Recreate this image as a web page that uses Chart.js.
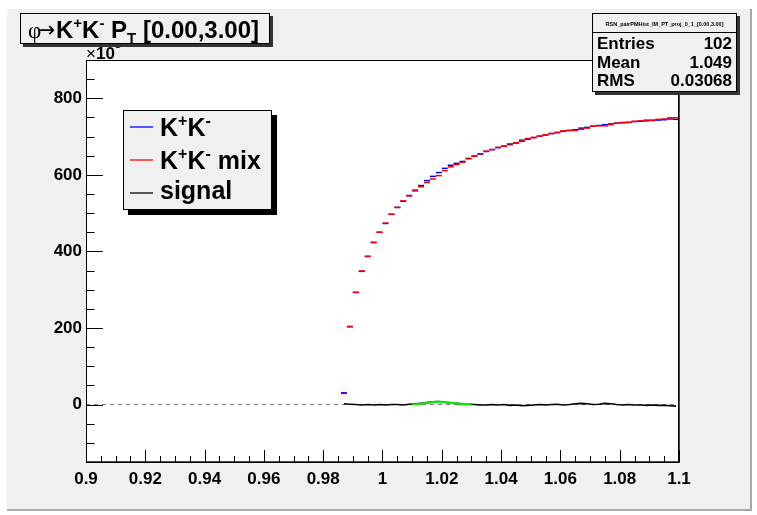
<!DOCTYPE html>
<html>
<head>
<meta charset="utf-8">
<script src="https://cdn.jsdelivr.net/npm/chart.js@4.4.1/dist/chart.umd.min.js"></script>
<style>
  html, body { margin: 0; padding: 0; background: #fff; }
</style>
</head>
<body>
<canvas id="chart" width="757" height="515"></canvas>
<script>
// Bin centres (bin width 0.002 GeV/c^2)
const binCenters = [
  0.987, 0.989, 0.991, 0.993, 0.995, 0.997, 0.999, 1.001, 1.003, 1.005,
  1.007, 1.009, 1.011, 1.013, 1.015, 1.017, 1.019, 1.021, 1.023, 1.025,
  1.027, 1.029, 1.031, 1.033, 1.035, 1.037, 1.039, 1.041, 1.043, 1.045,
  1.047, 1.049, 1.051, 1.053, 1.055, 1.057, 1.059, 1.061, 1.063, 1.065,
  1.067, 1.069, 1.071, 1.073, 1.075, 1.077, 1.079, 1.081, 1.083, 1.085,
  1.087, 1.089, 1.091, 1.093, 1.095, 1.097, 1.099
];

// Counts in units of 10^3
const kkCounts = [
  31, 204, 293, 348, 387, 423, 450, 473, 497, 515,
  531, 546, 560, 572, 585, 596, 606, 617, 625, 630,
  635, 643, 649, 654, 661, 666, 671, 675, 679, 683,
  688, 693, 697, 701, 704, 708, 711, 714, 716, 718,
  722, 724, 727, 729, 731, 733, 735, 736, 737, 739,
  740, 741, 742, 743, 744, 746, 745
];

const kkMixCounts = [
  29, 203, 293, 349, 387, 424, 450, 474, 497, 515,
  532, 545, 558, 569, 580, 589, 598, 611, 621, 627,
  633, 642, 649, 655, 662, 666, 672, 675, 681, 684,
  691, 695, 698, 701, 705, 708, 710, 715, 716, 716,
  719, 722, 727, 728, 728, 731, 735, 737, 737, 740,
  741, 743, 743, 745, 746, 749, 749
];

const signalCounts = [
  2, 1, 0, -1, 0, -1, 0, -1, 0, 0,
  -1, 1, 2, 3, 5, 7, 8, 6, 4, 3,
  2, 1, 0, -1, -1, 0, -1, 0, -2, -1,
  -3, -2, -1, 0, -1, 0, 1, -1, 0, 2,
  3, 2, 0, 1, 3, 2, 0, -1, 0, -1,
  -1, -2, -1, -2, -2, -3, -4
];

// Fit curve around the phi peak
const fitX = [1.010, 1.012, 1.014, 1.016, 1.018, 1.020, 1.022, 1.024, 1.026, 1.028, 1.030];
const fitY = [0.5, 1.5, 3.5, 5.5, 7, 7, 5.5, 3.5, 2, 1, 0.5];

// Axes
const xRange = [0.9, 1.1];
const yRange = [-150, 900];
const xTicks = [0.9, 0.92, 0.94, 0.96, 0.98, 1.0, 1.02, 1.04, 1.06, 1.08, 1.1];
const yTicks = [0, 200, 400, 600, 800];

// Stats box
const statsTitle = "RSN_pairPMHist_IM_PT_proj_0_1_[0.00,3.00]";
const statsNames = ["Entries", "Mean", "RMS"];
const statsValues = ["102", "1.049", "0.03068"];

const FAM = '"Liberation Sans", Arial, sans-serif';
const font = (size, weight = "bold") => `${weight} ${size}px ${FAM}`;

const toPoints = (xs, ys) => xs.map((x, i) => ({ x: x, y: ys[i] }));

// draw a run of text pieces (used for super/subscripts)
function drawParts(ctx, x, y, parts) {
  for (const p of parts) {
    ctx.font = p.font;
    ctx.fillText(p.t, x, y + (p.dy || 0));
    x += ctx.measureText(p.t).width + (p.gap || 0);
  }
  return x;
}

const kkLabel = (size) => [
  { t: "K", font: font(size) },
  { t: "+", font: font(Math.round(size * 0.62)), dy: -size * 0.42 },
  { t: "K", font: font(size) },
  { t: "-", font: font(Math.round(size * 0.62)), dy: -size * 0.42 }
];

const rootStyle = {
  id: "rootStyle",
  beforeDraw(chart) {
    const { ctx, chartArea: a } = chart;
    ctx.save();
    ctx.fillStyle = "#fff";
    ctx.fillRect(0, 0, chart.width, chart.height);
    ctx.fillStyle = "#f0f0f0";
    ctx.fillRect(7, 9, 745, 502);
    ctx.fillStyle = "#a8a8a8";
    ctx.fillRect(750, 9, 2, 502);
    ctx.fillRect(7, 509, 745, 2);

    // axis exponent (top is hidden behind the title box)
    ctx.fillStyle = "#000";
    ctx.textAlign = "left";
    ctx.textBaseline = "alphabetic";
    drawParts(ctx, 86, 59, [
      { t: "\u00d7", font: font(17, "normal") },
      { t: "10", font: font(17) },
      { t: "3", font: font(12), dy: -11 }
    ]);

    ctx.fillStyle = "#fff";
    ctx.fillRect(a.left, a.top, a.right - a.left, a.bottom - a.top);
    ctx.restore();
  },
  afterDraw(chart) {
    const { ctx, chartArea: a, scales } = chart;
    const sx = scales.x, sy = scales.y;
    ctx.save();

    // frame
    ctx.strokeStyle = "#000";
    ctx.lineWidth = 1;
    ctx.strokeRect(a.left + 0.5, a.top + 0.5, a.right - a.left - 1, a.bottom - a.top);

    // ticks inside the frame
    ctx.beginPath();
    for (let v = 0.9; v <= 1.1001; v += 0.005) {
      const px = Math.round(sx.getPixelForValue(v)) + 0.5;
      const major = Math.abs(v * 50 - Math.round(v * 50)) < 1e-6;
      ctx.moveTo(px, a.bottom);
      ctx.lineTo(px, a.bottom - (major ? 12 : 6));
    }
    for (let v = -100; v <= 850; v += 50) {
      const py = Math.round(sy.getPixelForValue(v)) + 0.5;
      const major = v % 200 === 0;
      ctx.moveTo(a.left, py);
      ctx.lineTo(a.left + (major ? 17 : 8.5), py);
    }
    ctx.stroke();

    // title box
    ctx.fillStyle = "#333";
    ctx.fillRect(23, 16, 250, 31);
    ctx.fillStyle = "#f0f0f0";
    ctx.fillRect(20, 13, 250, 31);
    ctx.strokeRect(20.5, 13.5, 249, 30);
    ctx.fillStyle = "#000";
    ctx.textAlign = "left";
    ctx.textBaseline = "alphabetic";
    drawParts(ctx, 28, 38, [{ t: "\u03c6", font: `normal 23px "Liberation Serif", serif` }]);
    drawParts(ctx, 37, 37, [{ t: "\u2192", font: `normal 22px "DejaVu Sans", sans-serif` }]);
    const x = drawParts(ctx, 56, 38, kkLabel(24));
    drawParts(ctx, x, 38, [
      { t: " P", font: font(24) },
      { t: "T", font: font(15), dy: 5 },
      { t: " [0.00,3.00]", font: font(24) }
    ]);

    // stats box
    ctx.fillStyle = "#333";
    ctx.fillRect(595, 16, 145, 79);
    ctx.fillStyle = "#f0f0f0";
    ctx.fillRect(592, 13, 145, 79);
    ctx.strokeRect(592.5, 13.5, 144, 78);
    ctx.beginPath();
    ctx.moveTo(592, 32.5);
    ctx.lineTo(737, 32.5);
    ctx.stroke();
    ctx.fillStyle = "#000";
    ctx.font = font(5.5);
    ctx.textAlign = "center";
    ctx.fillText(statsTitle, 664.5, 26);
    statsNames.forEach((name, i) => {
      const by = 49 + i * 18.5;
      ctx.font = font(17);
      ctx.textAlign = "left";
      ctx.fillText(name, 597, by);
      ctx.textAlign = "right";
      ctx.fillText(statsValues[i], 732, by);
    });

    // legend box
    ctx.fillStyle = "#000";
    ctx.fillRect(128, 115, 149, 100);
    ctx.fillStyle = "#f0f0f0";
    ctx.fillRect(123, 110, 149, 100);
    ctx.strokeStyle = "#000";
    ctx.strokeRect(123.5, 110.5, 148, 99);
    const rows = [
      { parts: kkLabel(25), color: "#0000ff", ly: 127, ty: 136 },
      { parts: kkLabel(25).concat([{ t: " mix", font: font(25) }]), color: "#ff0000", ly: 160, ty: 169 },
      { parts: [{ t: "signal", font: font(25) }], color: "#000000", ly: 193, ty: 199 }
    ];
    ctx.textAlign = "left";
    rows.forEach((r) => {
      ctx.strokeStyle = r.color;
      ctx.lineWidth = 1.3;
      ctx.beginPath();
      ctx.moveTo(130, r.ly);
      ctx.lineTo(153, r.ly);
      ctx.stroke();
      ctx.fillStyle = "#000";
      drawParts(ctx, 160, r.ty, r.parts);
    });

    ctx.restore();
  }
};

const histMarker = (color) => ({
  showLine: false,
  pointStyle: "line",
  pointRadius: 3,
  pointBorderWidth: 1.5,
  pointBorderColor: color,
  pointBackgroundColor: color,
  borderColor: color
});

new Chart(document.getElementById("chart"), {
  type: "scatter",
  data: {
    datasets: [
      {
        label: "frame line",
        data: [
          { x: xRange[0], y: yRange[0] },
          { x: xRange[1], y: yRange[0] },
          { x: xRange[1], y: yRange[1] }
        ],
        showLine: true,
        borderColor: "#ff0000",
        borderWidth: 2,
        pointRadius: 0,
        clip: false,
        order: 0
      },
      {
        label: "fit",
        data: toPoints(fitX, fitY),
        showLine: true,
        borderColor: "#00ee00",
        borderWidth: 2.2,
        pointRadius: 0,
        tension: 0.3,
        order: 1
      },
      {
        label: "signal",
        data: toPoints(binCenters, signalCounts),
        showLine: true,
        borderColor: "#000",
        borderWidth: 1.6,
        pointRadius: 0,
        order: 2
      },
      Object.assign({ label: "K+K- mix", data: toPoints(binCenters, kkMixCounts), order: 3 }, histMarker("#ff0000")),
      Object.assign({ label: "K+K-", data: toPoints(binCenters, kkCounts), order: 4 }, histMarker("#0000ff")),
      {
        label: "zero",
        data: [{ x: xRange[0], y: 0 }, { x: xRange[1], y: 0 }],
        showLine: true,
        borderColor: "#777",
        borderWidth: 1,
        borderDash: [4, 4],
        pointRadius: 0,
        order: 5
      }
    ]
  },
  options: {
    responsive: false,
    animation: false,
    layout: { padding: { left: 0, top: 60, right: 78, bottom: 0 } },
    plugins: {
      legend: { display: false },
      tooltip: { enabled: false }
    },
    scales: {
      x: {
        type: "linear",
        min: xRange[0],
        max: xRange[1],
        grid: { display: false, drawTicks: false },
        border: { display: false },
        afterBuildTicks: (s) => { s.ticks = xTicks.map((v) => ({ value: v })); },
        afterFit: (s) => { s.height = 53; },
        ticks: {
          color: "#000",
          padding: 7,
          maxRotation: 0,
          autoSkip: false,
          font: { family: FAM, size: 17, weight: "bold" },
          callback: (v) => String(Math.round(v * 100) / 100)
        }
      },
      y: {
        type: "linear",
        min: yRange[0],
        max: yRange[1],
        grid: { display: false, drawTicks: false },
        border: { display: false },
        afterBuildTicks: (s) => { s.ticks = yTicks.map((v) => ({ value: v })); },
        afterFit: (s) => { s.width = 86; },
        ticks: {
          color: "#000",
          padding: 4,
          autoSkip: false,
          font: { family: FAM, size: 17, weight: "bold" },
          callback: (v) => String(v)
        }
      }
    }
  },
  plugins: [rootStyle]
});
</script>
</body>
</html>
